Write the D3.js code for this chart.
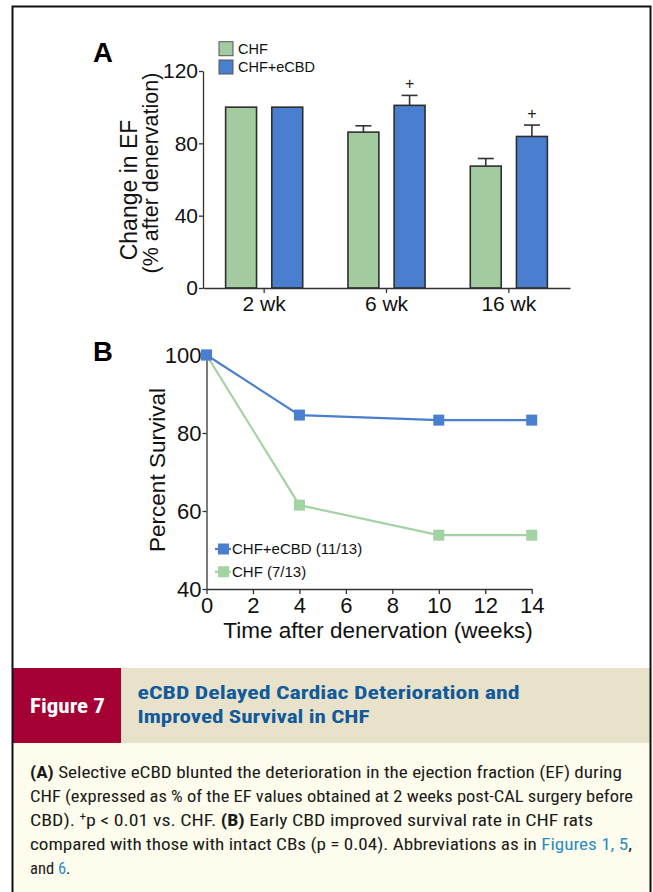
<!DOCTYPE html>
<html>
<head>
<meta charset="utf-8">
<script src="https://cdn.jsdelivr.net/npm/d3@7"></script>
<style>
  html, body { margin: 0; padding: 0; background: #ffffff; }
  svg { display: block; }
  text { white-space: pre; }
</style>
</head>
<body>
<svg id="chart" width="653" height="892"></svg>
<script>
// ---------------- DATA ----------------
// Panel A: change in EF (% after denervation)
const efCategories = ["2 wk", "6 wk", "16 wk"];
const efSeries = ["CHF", "CHF+eCBD"];
const efCHF = [100, 86.2, 67.4];
const efCHFerr = [0, 3.5, 4.2];
const efECBD = [100, 101, 83.8];
const efECBDerr = [0, 5.5, 6.3];
const efECBDsig = [false, true, true];
const efTicks = [0, 40, 80, 120];

// Panel B: percent survival
const survWeeks = [0, 4, 10, 14];
const survECBD = [100, 84.6, 83.3, 83.3];
const survCHF = [100, 61.5, 53.8, 53.8];
const survYTicks = [40, 60, 80, 100];
const survXTicks = [0, 2, 4, 6, 8, 10, 12, 14];
const survLegend = ["CHF+eCBD (11/13)", "CHF (7/13)"];

// Caption
const figLabel = "Figure 7";
const figTitle = ["eCBD Delayed Cardiac Deterioration and", "Improved Survival in CHF"];
const captionLines = [
  [{t: "(A)", b: 1}, {t: " Selective eCBD blunted the deterioration in the ejection fraction (EF) during"}],
  [{t: "CHF (expressed as % of the EF values obtained at 2 weeks post-CAL surgery before"}],
  [{t: "CBD). "}, {t: "+", sup: 1}, {t: "p < 0.01 vs. CHF. "}, {t: "(B)", b: 1}, {t: " Early CBD improved survival rate in CHF rats"}],
  [{t: "compared with those with intact CBs (p = 0.04). Abbreviations as in "}, {t: "Figures 1, 5", link: 1}, {t: ","}],
  [{t: "and "}, {t: "6", link: 1}, {t: "."}]
];
const captionWidths = [592, 603, 563, 602, null];

// ---------------- STYLE ----------------
const GREEN = "#a2cba0";
const BLUE = "#4a7fd0";
const LGREEN = "#a3d2a3";
const AXIS = "#333333";
const FONT = "'Liberation Sans', Arial, Helvetica, sans-serif";
const NARROW = "'Liberation Sans Narrow', 'Roboto Condensed', 'Liberation Sans', Arial, sans-serif";

const svg = d3.select("#chart");

// Frame backgrounds
svg.append("rect").attr("x", 12.5).attr("y", 6.5).attr("width", 638).attr("height", 900)
  .attr("fill", "#ffffff");
svg.append("rect").attr("x", 12.5).attr("y", 743).attr("width", 638).attr("height", 160)
  .attr("fill", "#fefcec");
svg.append("rect").attr("x", 12.5).attr("y", 668).attr("width", 638).attr("height", 75)
  .attr("fill", "#e9e2ca");
svg.append("rect").attr("x", 12.5).attr("y", 668).attr("width", 108.5).attr("height", 75)
  .attr("fill", "#a50034");

// ---------------- PANEL A ----------------
const yA = d3.scaleLinear().domain([0, 120]).range([288, 71]);
const xA = d3.scaleBand().domain(efCategories).range([203, 570]).padding(0);
const xSub = d3.scaleBand().domain(efSeries).range([0, xA.bandwidth()])
  .paddingInner(0.33).paddingOuter(0.49);

const gA = svg.append("g");

const barData = [];
efCategories.forEach((c, i) => {
  barData.push({cat: c, s: efSeries[0], v: efCHF[i], e: efCHFerr[i], sig: false, fill: GREEN});
  barData.push({cat: c, s: efSeries[1], v: efECBD[i], e: efECBDerr[i], sig: efECBDsig[i], fill: BLUE});
});

// error bars (behind bars)
const eb = gA.selectAll(".err").data(barData.filter(d => d.e > 0)).join("g");
eb.append("line")
  .attr("x1", d => xA(d.cat) + xSub(d.s) + xSub.bandwidth() / 2)
  .attr("x2", d => xA(d.cat) + xSub(d.s) + xSub.bandwidth() / 2)
  .attr("y1", d => yA(d.v)).attr("y2", d => yA(d.v + d.e))
  .attr("stroke", AXIS).attr("stroke-width", 1.6);
eb.append("line")
  .attr("x1", d => xA(d.cat) + xSub(d.s) + xSub.bandwidth() / 2 - 8)
  .attr("x2", d => xA(d.cat) + xSub(d.s) + xSub.bandwidth() / 2 + 8)
  .attr("y1", d => yA(d.v + d.e)).attr("y2", d => yA(d.v + d.e))
  .attr("stroke", AXIS).attr("stroke-width", 1.6);

gA.selectAll(".bar").data(barData).join("rect")
  .attr("x", d => xA(d.cat) + xSub(d.s))
  .attr("width", xSub.bandwidth())
  .attr("y", d => yA(d.v))
  .attr("height", d => yA(0) - yA(d.v))
  .attr("fill", d => d.fill)
  .attr("stroke", "#2e2e2e").attr("stroke-width", 1.6);

gA.selectAll(".sig").data(barData.filter(d => d.sig)).join("text")
  .attr("x", d => xA(d.cat) + xSub(d.s) + xSub.bandwidth() / 2)
  .attr("y", d => yA(d.v + d.e) - 6)
  .attr("text-anchor", "middle")
  .attr("font-family", FONT).attr("font-size", 16).attr("fill", "#222")
  .text("+");

// axes A
const axA_y = gA.append("g").attr("transform", "translate(203,0)")
  .call(d3.axisLeft(yA).tickValues(efTicks).tickSize(4).tickPadding(1).tickSizeOuter(0));
axA_y.select(".domain").attr("stroke", AXIS).attr("stroke-width", 1.3);
axA_y.selectAll(".tick line").attr("stroke", AXIS).attr("stroke-width", 1.3);
axA_y.selectAll(".tick text").attr("font-family", FONT).attr("font-size", 21).attr("fill", "#111");

const axA_x = gA.append("g").attr("transform", "translate(0,288)")
  .call(d3.axisBottom(xA).tickSize(5).tickPadding(3).tickSizeOuter(0));
axA_x.select(".domain").attr("stroke", AXIS).attr("stroke-width", 1.3);
axA_x.selectAll(".tick line").attr("stroke", AXIS).attr("stroke-width", 1.3);
axA_x.selectAll(".tick text").attr("font-family", FONT).attr("font-size", 21).attr("fill", "#111");

// y title A
gA.append("text").attr("transform", "translate(137,190) rotate(-90)")
  .attr("text-anchor", "middle").attr("font-family", FONT).attr("font-size", 23).attr("fill", "#111")
  .text("Change in EF");
gA.append("text").attr("transform", "translate(158,173) rotate(-90)")
  .attr("text-anchor", "middle").attr("font-family", FONT).attr("font-size", 21.5).attr("fill", "#111")
  .text("(% after denervation)");

// legend A
const legA = gA.selectAll(".legA").data(efSeries).join("g")
  .attr("transform", (d, i) => `translate(219,${41.7 + i * 18.3})`);
legA.append("rect").attr("width", 14).attr("height", 14)
  .attr("fill", (d, i) => i === 0 ? GREEN : BLUE).attr("stroke", "#555").attr("stroke-width", 1);
legA.append("text").attr("x", 19).attr("y", 12.3)
  .attr("font-family", FONT).attr("font-size", 14.5).attr("fill", "#111").text(d => d);

svg.append("text").attr("x", 93).attr("y", 62.3).attr("font-family", FONT)
  .attr("font-weight", "bold").attr("font-size", 27.5).attr("fill", "#000").text("A");

// ---------------- PANEL B ----------------
const xB = d3.scaleLinear().domain([0, 14]).range([206.5, 531.7]);
const yB = d3.scaleLinear().domain([40, 100]).range([589, 355]);
const gB = svg.append("g");

const axB_y = gB.append("g").attr("transform", "translate(206.5,0)")
  .call(d3.axisLeft(yB).tickValues(survYTicks).tickSize(4).tickPadding(1).tickSizeOuter(0));
const axB_x = gB.append("g").attr("transform", "translate(0,589)")
  .call(d3.axisBottom(xB).tickValues(survXTicks).tickSize(5).tickPadding(3).tickSizeOuter(0));
[axB_x, axB_y].forEach(a => {
  a.select(".domain").attr("stroke", AXIS).attr("stroke-width", 1.3);
  a.selectAll(".tick line").attr("stroke", AXIS).attr("stroke-width", 1.3);
  a.selectAll(".tick text").attr("font-family", FONT).attr("font-size", 22).attr("fill", "#111");
});

gB.append("text").attr("transform", "translate(165,470) rotate(-90)")
  .attr("text-anchor", "middle").attr("font-family", FONT).attr("font-size", 22.5).attr("fill", "#111")
  .text("Percent Survival");
gB.append("text").attr("x", 378).attr("y", 638)
  .attr("text-anchor", "middle").attr("font-family", FONT).attr("font-size", 22.5).attr("fill", "#111")
  .text("Time after denervation (weeks)");

const lineB = d3.line().x((d, i) => xB(survWeeks[i])).y(d => yB(d));
const seriesB = [
  {name: survLegend[1], vals: survCHF, color: LGREEN},
  {name: survLegend[0], vals: survECBD, color: BLUE}
];
seriesB.forEach(s => {
  gB.append("path").datum(s.vals).attr("d", lineB)
    .attr("fill", "none").attr("stroke", s.color).attr("stroke-width", 2.2);
  gB.selectAll(null).data(s.vals).join("rect")
    .attr("x", (d, i) => xB(survWeeks[i]) - 5.5)
    .attr("y", d => yB(d) - 5.5)
    .attr("width", 11).attr("height", 11)
    .attr("fill", s.color);
});

// legend B
const legBData = [{name: survLegend[0], color: BLUE}, {name: survLegend[1], color: LGREEN}];
const legB = gB.selectAll(".legB").data(legBData).join("g")
  .attr("transform", (d, i) => `translate(215,${549 + i * 22.7})`);
legB.append("line").attr("x1", 0).attr("x2", 16).attr("y1", 0).attr("y2", 0)
  .attr("stroke", d => d.color).attr("stroke-width", 2.2);
legB.append("rect").attr("x", 3).attr("y", -5.5).attr("width", 11).attr("height", 11)
  .attr("fill", d => d.color);
legB.append("text").attr("x", 17).attr("y", 5.3)
  .attr("font-family", FONT).attr("font-size", 15).attr("fill", "#111").text(d => d.name);

svg.append("text").attr("x", 93).attr("y", 360.7).attr("font-family", FONT)
  .attr("font-weight", "bold").attr("font-size", 27.5).attr("fill", "#000").text("B");

// ---------------- CAPTION ----------------
svg.append("text").attr("x", 30).attr("y", 713).attr("textLength", 75).attr("lengthAdjust", "spacingAndGlyphs")
  .attr("font-family", NARROW).attr("font-weight", "bold").attr("font-size", 20.5).attr("fill", "#ffffff")
  .text(figLabel);
const titleWidths = [382, 232];
figTitle.forEach((t, i) => {
  svg.append("text").attr("x", 137.5).attr("y", 699 + i * 23.5)
    .attr("textLength", titleWidths[i]).attr("lengthAdjust", "spacingAndGlyphs")
    .attr("font-family", NARROW).attr("font-weight", "bold").attr("font-size", 18.5).attr("fill", "#115a9b")
    .text(t);
});

captionLines.forEach((parts, i) => {
  const t = svg.append("text").attr("x", 30).attr("y", 777.5 + i * 24)
    .attr("font-family", NARROW).attr("font-size", 16.5).attr("fill", "#1a1a1a");
  if (captionWidths[i]) t.attr("textLength", captionWidths[i]).attr("lengthAdjust", "spacingAndGlyphs");
  parts.forEach(p => {
    const ts = t.append("tspan").text(p.t);
    if (p.b) ts.attr("font-weight", "bold");
    if (p.link) ts.attr("fill", "#2a8cc4");
    if (p.sup) ts.attr("font-size", 11).attr("baseline-shift", "super");
  });
});

// outer frame
svg.append("rect").attr("x", 12.5).attr("y", 6.5).attr("width", 638).attr("height", 900)
  .attr("fill", "none").attr("stroke", "#111").attr("stroke-width", 2);
</script>
</body>
</html>
